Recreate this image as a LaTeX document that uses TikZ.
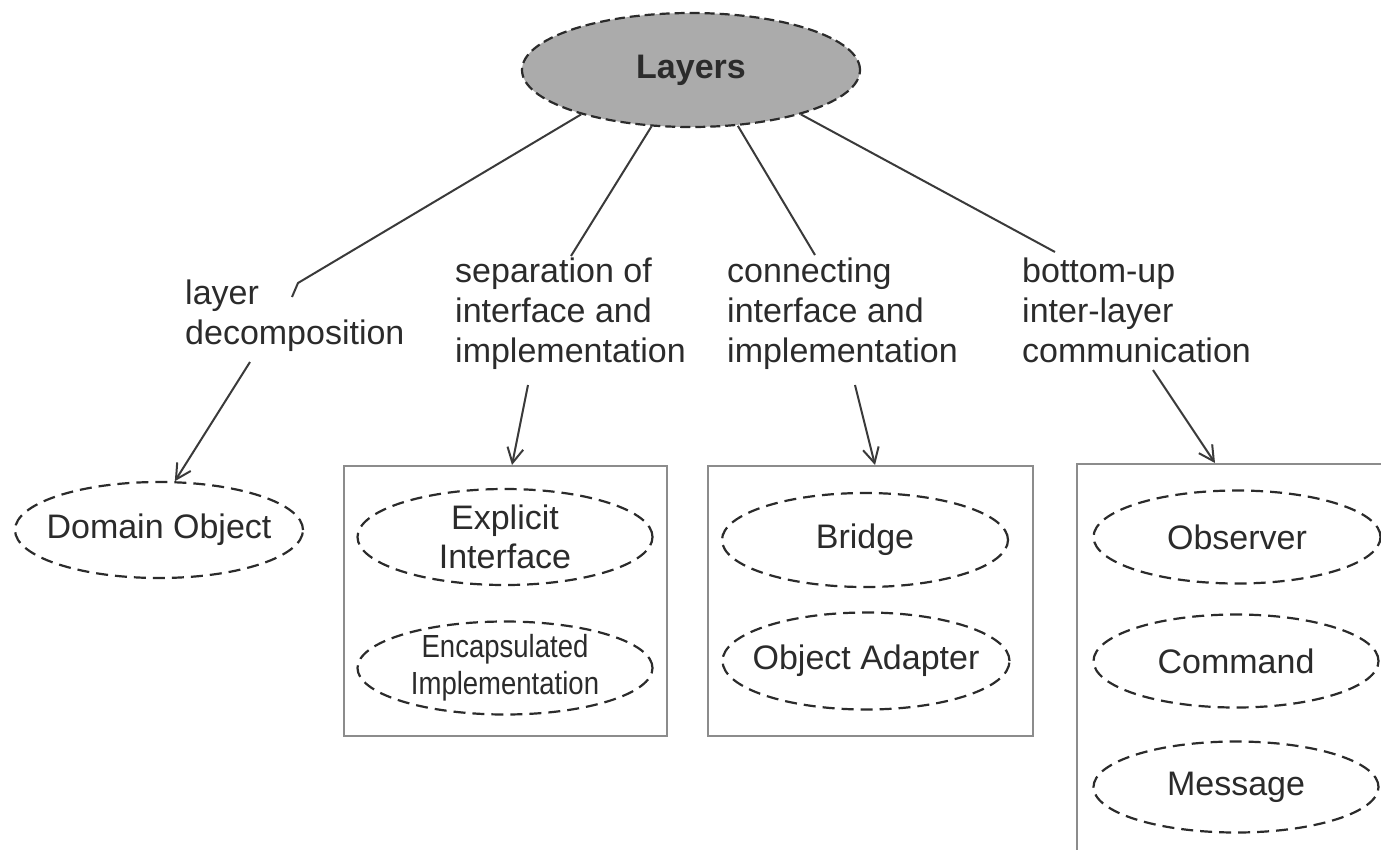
\documentclass[tikz,border=0pt]{standalone}
\usepackage{fontspec}
\setmainfont{Liberation Sans}
\newfontfamily\narrowsans[FakeStretch=0.86]{Liberation Sans}
\usetikzlibrary{shapes.geometric,arrows.meta}
\definecolor{ink}{HTML}{2B2B2B}
\definecolor{edgegray}{HTML}{3A3A3A}
\definecolor{framegray}{HTML}{8C8C8C}
\definecolor{topfill}{HTML}{ABABAB}
\tikzset{
  rootnode/.style={ellipse, draw=ink, fill=topfill, line width=2.2pt,
    dash pattern=on 10pt off 5pt, minimum width=338pt, minimum height=114pt,
    inner sep=0pt, text=ink, font=\bfseries\fontsize{34}{40}\selectfont},
  % negative inner sep keeps each ellipse at its given minimum size
  patnode/.style={ellipse, draw=ink, line width=2.2pt,
    dash pattern=on 12pt off 7pt, inner xsep=-60pt, inner ysep=-30pt,
    align=center, text=ink, font=\fontsize{34}{39}\selectfont},
  groupframe/.style={draw=framegray, line width=1.8pt, anchor=north west,
    inner sep=0pt},
  edgelabel/.style={anchor=base west, align=left, inner sep=0pt, text=ink,
    font=\fontsize{34}{40}\selectfont},
  link/.style={draw=edgegray, line width=2pt},
  arr/.style={draw=edgegray, line width=2pt,
    -{Straight Barb[length=15pt,width=16pt]}},
}
\begin{document}
\begin{tikzpicture}[x=1pt,y=-1pt]
\useasboundingbox (0,0) rectangle (1381,849);
\clip (0,0) rectangle (1381,849);

% root
\node[rootnode] (layers) at (691,70) {Layers};

% group frames
\node[groupframe, minimum width=323pt, minimum height=270pt] (box2) at (343,465) {};
\node[groupframe, minimum width=325pt, minimum height=270pt] (box3) at (707,465) {};
\node[groupframe, minimum width=340pt, minimum height=420pt] (box4) at (1076,463) {};

% patterns
\node[patnode, minimum width=288pt, minimum height=96pt] (dom) at (159,530) {Domain Object};
\node[patnode, minimum width=295pt, minimum height=96pt] (expl) at (505,537) {Explicit\\Interface};
\node[patnode, minimum width=295pt, minimum height=93pt,
      font=\narrowsans\fontsize{32}{37}\selectfont] (encap) at (505,668) {Encapsulated\\Implementation};
\node[patnode, minimum width=286pt, minimum height=94pt] (bridge) at (865,540) {Bridge};
\node[patnode, minimum width=287pt, minimum height=97pt] (adapter) at (866,661) {Object Adapter};
\node[patnode, minimum width=287pt, minimum height=93pt] (observer) at (1237,537) {Observer};
\node[patnode, minimum width=285pt, minimum height=93pt] (command) at (1236,661) {Command};
\node[patnode, minimum width=285pt, minimum height=91pt] (message) at (1236,787) {Message};

% relation labels (anchored at the baseline of their last line)
\node[edgelabel] (l1) at (185,344) {layer\\decomposition};
\node[edgelabel] (l2) at (455,362) {separation of\\interface and\\implementation};
\node[edgelabel] (l3) at (727,362) {connecting\\interface and\\implementation};
\node[edgelabel] (l4) at (1022,362) {bottom-up\\inter-layer\\communication};

% lines from the root to the labels
\coordinate (k1) at (298,283);
\coordinate (e1) at (292,297);
\coordinate (e2) at (571,256);
\coordinate (e3) at (815,255);
\coordinate (e4) at (1055,252);
\draw[link] (layers.202) -- (k1) -- (e1);
\draw[link] (layers.235) -- (e2);
\draw[link] (layers.310) -- (e3);
\draw[link] (layers.338) -- (e4);

% arrows from the labels to the patterns
\coordinate (s1) at (250,362);
\coordinate (s2) at (528,385);
\coordinate (s3) at (855,385);
\coordinate (s4) at (1153,370);
\draw[arr] (s1) -- (dom.72);
\draw[arr] (s2) -- ([xshift=169pt]box2.north west);
\draw[arr] (s3) -- ([xshift=168pt]box3.north west);
\draw[arr] (s4) -- ([xshift=139pt]box4.north west);
\end{tikzpicture}
\end{document}
